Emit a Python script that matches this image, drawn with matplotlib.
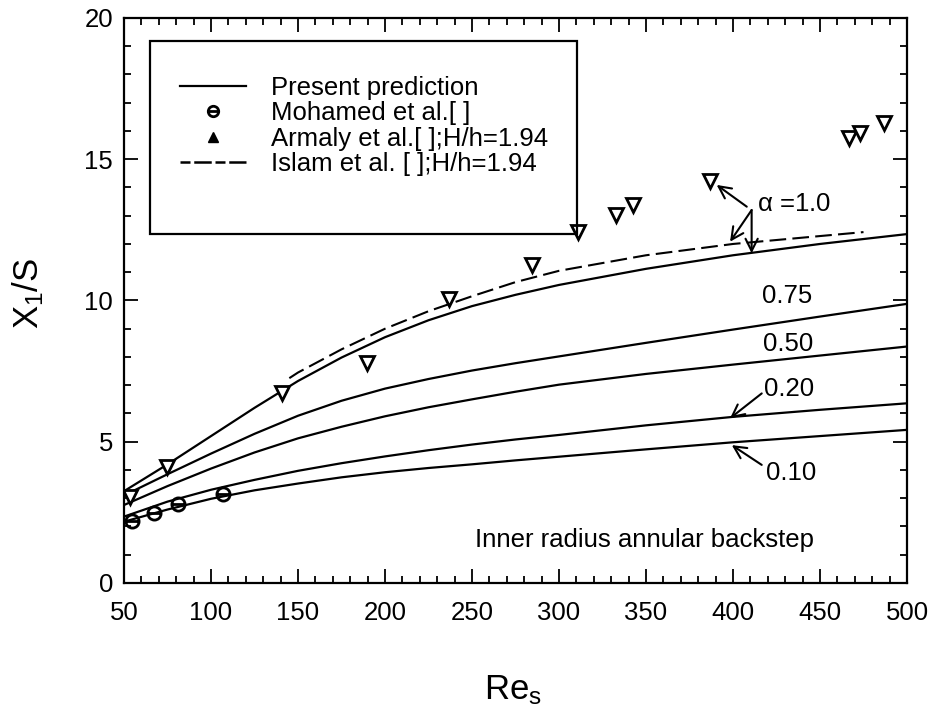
import matplotlib
matplotlib.use("Agg")
import matplotlib.pyplot as plt
import matplotlib.ticker as ticker
from matplotlib.lines import Line2D
from matplotlib.patches import Rectangle
from matplotlib.path import Path

plt.rcParams['font.family'] = ['Liberation Sans', 'DejaVu Sans']
plt.rcParams['mathtext.fontset'] = 'custom'
plt.rcParams['mathtext.rm'] = 'Liberation Sans'
plt.rcParams['mathtext.it'] = 'Liberation Sans'

# Present prediction curves, X1/S vs Re_s, one per expansion ratio alpha
re_grid = [50, 75, 100, 125, 150, 175, 200, 225, 250, 275, 300, 350, 400, 450, 500]
pred_a100 = [3.25, 4.2, 5.2, 6.2, 7.15, 7.98, 8.7, 9.3, 9.8, 10.2, 10.55, 11.12, 11.6, 12.0, 12.35]
pred_a075 = [3.1, 3.85, 4.58, 5.28, 5.92, 6.45, 6.88, 7.22, 7.52, 7.78, 8.02, 8.5, 8.97, 9.43, 9.88]
pred_a050 = [2.76, 3.43, 4.05, 4.62, 5.12, 5.53, 5.9, 6.22, 6.5, 6.77, 7.02, 7.4, 7.73, 8.05, 8.37]
pred_a020 = [2.35, 2.88, 3.3, 3.65, 3.97, 4.24, 4.48, 4.7, 4.9, 5.08, 5.24, 5.58, 5.88, 6.13, 6.36]
pred_a010 = [2.17, 2.6, 2.98, 3.28, 3.52, 3.74, 3.92, 4.07, 4.2, 4.34, 4.47, 4.73, 4.98, 5.2, 5.42]

# Islam et al. (dashed)
islam_re = [145, 150, 175, 200, 225, 250, 275, 300, 350, 400, 450, 475]
islam_x1s = [7.25, 7.45, 8.27, 9.0, 9.62, 10.15, 10.65, 11.05, 11.6, 12.0, 12.28, 12.42]

# Mohamed et al. (circles)
mohamed_re = [54.4, 67.4, 80.8, 107]
mohamed_x1s = [2.2, 2.47, 2.8, 3.15]

# Armaly et al. (triangles)
armaly_re = [53.4, 74.5, 140.6, 189.5, 237, 284.3, 311, 332.8, 342.7, 387, 466.8, 473, 487]
armaly_x1s = [3.05, 4.12, 6.71, 7.78, 10.04, 11.26, 12.44, 13.03, 13.38, 14.23, 15.74, 15.92, 16.27]

FS = 18.5

# circle with a horizontal bar, like the scanned symbol
circ_bar = Path.make_compound_path(Path.unit_circle(),
                                   Path([[-1, 0], [1, 0]], [Path.MOVETO, Path.LINETO]))

fig = plt.figure(figsize=(9.34, 7.27), dpi=100)
ax = fig.add_axes([0.1328, 0.1981, 0.8383, 0.7772])

for ys in (pred_a100, pred_a075, pred_a050, pred_a020, pred_a010):
    ax.plot(re_grid, ys, color="black", lw=1.6)

ax.plot(islam_re, islam_x1s, color="black", lw=1.5, linestyle=(0, (8, 3)))
ax.plot(mohamed_re, mohamed_x1s, linestyle="none", marker=circ_bar, ms=9.5,
        mfc="none", mec="black", mew=2.0)
ax.plot(armaly_re, armaly_x1s, linestyle="none", marker="v", ms=9.5,
        mfc="white", mec="black", mew=2.0)

ax.set_xlim(50, 500)
ax.set_ylim(0, 20)
ax.xaxis.set_major_locator(ticker.MultipleLocator(50))
ax.xaxis.set_minor_locator(ticker.MultipleLocator(10))
ax.yaxis.set_major_locator(ticker.MultipleLocator(5))
ax.yaxis.set_minor_locator(ticker.MultipleLocator(1))
ax.tick_params(which="both", direction="in", top=True, right=True, width=1.3,
               labelsize=FS)
ax.tick_params(which="major", length=10)
ax.tick_params(which="minor", length=5)
ax.tick_params(axis="x", pad=13)
ax.tick_params(axis="y", pad=8)
for sp in ax.spines.values():
    sp.set_linewidth(1.6)

ax.set_xlabel("Re$_s$", fontsize=25)
ax.set_ylabel("X$_1$/S", fontsize=25)
ax.xaxis.set_label_coords(0.497, -0.16)
ax.yaxis.set_label_coords(-0.1, 0.513)

# curve labels and arrows
arrow = dict(arrowstyle="->", lw=1.5, color="black", shrinkA=0, shrinkB=0,
             mutation_scale=22)
ax.text(413.5, 13.4, r"$\alpha$ =1.0", fontsize=FS, va="center", ha="left")
ax.annotate("", xy=(390.6, 14.09), xytext=(407.9, 13.32), arrowprops=arrow)
ax.annotate("", xy=(398.3, 12.08), xytext=(410.7, 13.2), arrowprops=arrow)
ax.annotate("", xy=(410.7, 11.67), xytext=(410.7, 13.2), arrowprops=arrow)
ax.text(431.3, 10.16, "0.75", fontsize=FS, va="center", ha="center")
ax.text(431.6, 8.46, "0.50", fontsize=FS, va="center", ha="center")
ax.text(432.3, 6.87, "0.20", fontsize=FS, va="center", ha="center")
ax.annotate("", xy=(398.3, 5.83), xytext=(416.5, 6.71), arrowprops=arrow)
ax.text(433.3, 3.91, "0.10", fontsize=FS, va="center", ha="center")
ax.annotate("", xy=(399.3, 4.88), xytext=(416.5, 4.18), arrowprops=arrow)
ax.text(348.9, 1.52, "Inner radius annular backstep", fontsize=FS,
        va="center", ha="center")

# legend box (drawn larger than the entries, as in the original)
ax.add_patch(Rectangle((0.033, 0.618), 0.546, 0.341, transform=ax.transAxes,
                       fill=False, lw=1.6, color="black", zorder=5))
handles = [
    Line2D([], [], color="black", lw=1.6),
    Line2D([], [], linestyle="none", marker=circ_bar, ms=7.5, mfc="none",
           mec="black", mew=2.0),
    Line2D([], [], linestyle="none", marker="^", ms=6.5, color="black"),
    Line2D([], [], color="black", lw=1.8, linestyle=(0, (4, 1.5, 7, 1.5))),
]
labels = ["Present prediction", "Mohamed et al.[ ]",
          "Armaly et al.[ ];H/h=1.94", "Islam et al. [ ];H/h=1.94"]
ax.legend(handles, labels, loc="upper left", bbox_to_anchor=(0.071, 0.897),
          frameon=False, fontsize=FS, handlelength=2.6, handletextpad=0.95,
          labelspacing=0.05, borderpad=0, borderaxespad=0)

fig.savefig("out.png", dpi=100)
